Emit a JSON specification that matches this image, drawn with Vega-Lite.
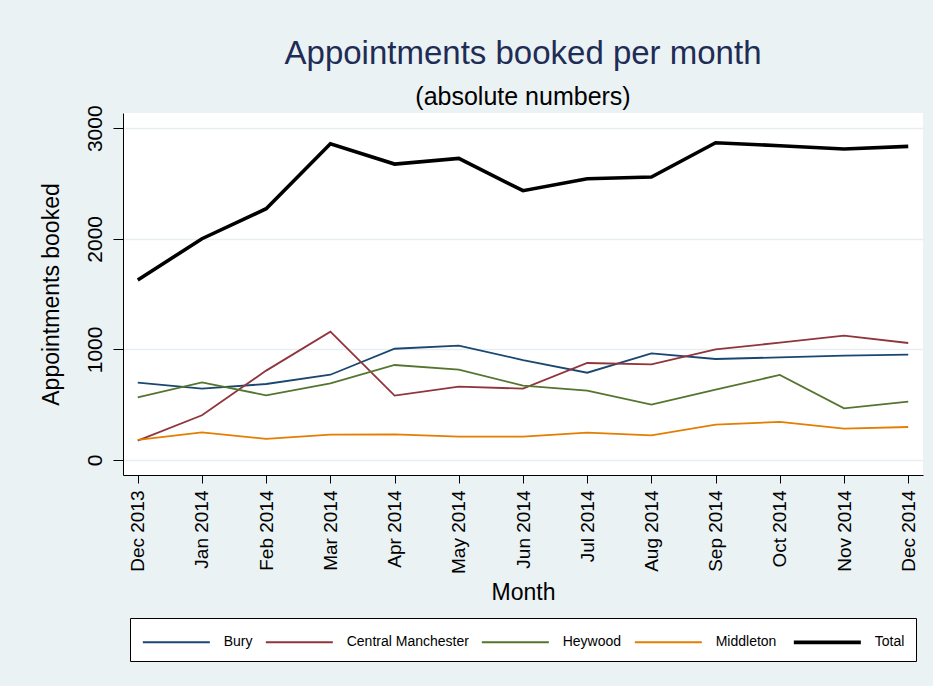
{
  "$schema": "https://vega.github.io/schema/vega-lite/v6.json",
  "width": 800,
  "height": 362,
  "autosize": {"type": "none"},
  "padding": {"left": 123, "top": 113, "right": 10, "bottom": 211},
  "background": "#eaf2f3",
  "config": {
    "view": {"fill": "white", "stroke": null},
    "font": "Liberation Sans"
  },
  "title": {
    "text": "Appointments booked per month",
    "subtitle": "(absolute numbers)",
    "fontSize": 33,
    "subtitleFontSize": 25,
    "fontWeight": "normal",
    "color": "#1f2c56",
    "subtitleColor": "black",
    "font": "Liberation Sans",
    "subtitleFont": "Liberation Sans",
    "anchor": "middle",
    "frame": "group",
    "offset": -5,
    "subtitlePadding": 14
  },
  "data": {
    "values": [
      {"month": "Dec 2013", "series": "Bury", "value": 699},
      {"month": "Jan 2014", "series": "Bury", "value": 645},
      {"month": "Feb 2014", "series": "Bury", "value": 687},
      {"month": "Mar 2014", "series": "Bury", "value": 771},
      {"month": "Apr 2014", "series": "Bury", "value": 1006},
      {"month": "May 2014", "series": "Bury", "value": 1034},
      {"month": "Jun 2014", "series": "Bury", "value": 904},
      {"month": "Jul 2014", "series": "Bury", "value": 789},
      {"month": "Aug 2014", "series": "Bury", "value": 964},
      {"month": "Sep 2014", "series": "Bury", "value": 913},
      {"month": "Oct 2014", "series": "Bury", "value": 928},
      {"month": "Nov 2014", "series": "Bury", "value": 943},
      {"month": "Dec 2014", "series": "Bury", "value": 952},
      {"month": "Dec 2013", "series": "Central Manchester", "value": 175},
      {"month": "Jan 2014", "series": "Central Manchester", "value": 404},
      {"month": "Feb 2014", "series": "Central Manchester", "value": 808},
      {"month": "Mar 2014", "series": "Central Manchester", "value": 1160},
      {"month": "Apr 2014", "series": "Central Manchester", "value": 582},
      {"month": "May 2014", "series": "Central Manchester", "value": 663},
      {"month": "Jun 2014", "series": "Central Manchester", "value": 645},
      {"month": "Jul 2014", "series": "Central Manchester", "value": 877},
      {"month": "Aug 2014", "series": "Central Manchester", "value": 865},
      {"month": "Sep 2014", "series": "Central Manchester", "value": 1001},
      {"month": "Oct 2014", "series": "Central Manchester", "value": 1061},
      {"month": "Nov 2014", "series": "Central Manchester", "value": 1124},
      {"month": "Dec 2014", "series": "Central Manchester", "value": 1058},
      {"month": "Dec 2013", "series": "Heywood", "value": 567},
      {"month": "Jan 2014", "series": "Heywood", "value": 702},
      {"month": "Feb 2014", "series": "Heywood", "value": 585},
      {"month": "Mar 2014", "series": "Heywood", "value": 693},
      {"month": "Apr 2014", "series": "Heywood", "value": 859},
      {"month": "May 2014", "series": "Heywood", "value": 817},
      {"month": "Jun 2014", "series": "Heywood", "value": 672},
      {"month": "Jul 2014", "series": "Heywood", "value": 627},
      {"month": "Aug 2014", "series": "Heywood", "value": 500},
      {"month": "Sep 2014", "series": "Heywood", "value": 636},
      {"month": "Oct 2014", "series": "Heywood", "value": 769},
      {"month": "Nov 2014", "series": "Heywood", "value": 467},
      {"month": "Dec 2014", "series": "Heywood", "value": 527},
      {"month": "Dec 2013", "series": "Middleton", "value": 181},
      {"month": "Jan 2014", "series": "Middleton", "value": 250},
      {"month": "Feb 2014", "series": "Middleton", "value": 190},
      {"month": "Mar 2014", "series": "Middleton", "value": 229},
      {"month": "Apr 2014", "series": "Middleton", "value": 232},
      {"month": "May 2014", "series": "Middleton", "value": 211},
      {"month": "Jun 2014", "series": "Middleton", "value": 211},
      {"month": "Jul 2014", "series": "Middleton", "value": 247},
      {"month": "Aug 2014", "series": "Middleton", "value": 223},
      {"month": "Sep 2014", "series": "Middleton", "value": 319},
      {"month": "Oct 2014", "series": "Middleton", "value": 344},
      {"month": "Nov 2014", "series": "Middleton", "value": 283},
      {"month": "Dec 2014", "series": "Middleton", "value": 298},
      {"month": "Dec 2013", "series": "Total", "value": 1627},
      {"month": "Jan 2014", "series": "Total", "value": 2001},
      {"month": "Feb 2014", "series": "Total", "value": 2272},
      {"month": "Mar 2014", "series": "Total", "value": 2860},
      {"month": "Apr 2014", "series": "Total", "value": 2676},
      {"month": "May 2014", "series": "Total", "value": 2728},
      {"month": "Jun 2014", "series": "Total", "value": 2435},
      {"month": "Jul 2014", "series": "Total", "value": 2544},
      {"month": "Aug 2014", "series": "Total", "value": 2559},
      {"month": "Sep 2014", "series": "Total", "value": 2869},
      {"month": "Oct 2014", "series": "Total", "value": 2842},
      {"month": "Nov 2014", "series": "Total", "value": 2812},
      {"month": "Dec 2014", "series": "Total", "value": 2836}
    ]
  },
  "mark": {"type": "line"},
  "encoding": {
    "x": {
      "field": "month",
      "type": "ordinal",
      "scale": {
        "type": "point",
        "domain": ["Dec 2013", "Jan 2014", "Feb 2014", "Mar 2014", "Apr 2014", "May 2014", "Jun 2014", "Jul 2014", "Aug 2014", "Sep 2014", "Oct 2014", "Nov 2014", "Dec 2014"],
        "padding": 0.23
      },
      "axis": {
        "title": "Month",
        "titleFontSize": 23,
        "titleFontWeight": "normal",
        "titleColor": "black",
        "titleFont": "Liberation Sans",
        "titlePadding": 8,
        "labelAngle": -90,
        "labelFontSize": 19,
        "labelColor": "black",
        "labelFont": "Liberation Sans",
        "labelPadding": 7,
        "labelOverlap": false,
        "tickSize": 8,
        "tickColor": "black",
        "domainColor": "black",
        "grid": false
      }
    },
    "y": {
      "field": "value",
      "type": "quantitative",
      "scale": {"domain": [-136, 3138], "nice": false, "zero": false},
      "axis": {
        "values": [0, 1000, 2000, 3000],
        "format": "d",
        "title": "Appointments booked",
        "titleFontSize": 23,
        "titleFontWeight": "normal",
        "titleColor": "black",
        "titleFont": "Liberation Sans",
        "titlePadding": 21,
        "labelAngle": -90,
        "labelFontSize": 21,
        "labelColor": "black",
        "labelFont": "Liberation Sans",
        "labelPadding": 8,
        "tickSize": 10,
        "tickColor": "black",
        "domainColor": "black",
        "grid": true,
        "gridColor": "#e6eef1",
        "gridWidth": 1.5
      }
    },
    "color": {
      "field": "series",
      "type": "nominal",
      "scale": {
        "domain": ["Bury", "Central Manchester", "Heywood", "Middleton", "Total"],
        "range": ["#1a476f", "#90353b", "#55752f", "#e37e00", "#000000"]
      },
      "legend": {
        "title": null,
        "orient": "none",
        "legendX": 7,
        "legendY": 505,
        "direction": "horizontal",
        "columns": 5,
        "fillColor": "white",
        "strokeColor": "black",
        "padding": 11,
        "columnPadding": 9,
        "labelFontSize": 14,
        "labelColor": "black",
        "labelFont": "Liberation Sans",
        "labelOffset": 56.7,
        "labelLimit": 300,
        "symbolType": "M-1,0H5",
        "symbolSize": 498.8
      }
    },
    "strokeWidth": {
      "field": "series",
      "type": "nominal",
      "scale": {
        "type": "ordinal",
        "domain": ["Bury", "Central Manchester", "Heywood", "Middleton", "Total"],
        "range": [1.8, 1.8, 1.8, 1.8, 3.6]
      },
      "legend": {
        "title": null,
        "orient": "none",
        "legendX": 7,
        "legendY": 505,
        "direction": "horizontal",
        "columns": 5,
        "fillColor": "white",
        "strokeColor": "black",
        "padding": 11,
        "columnPadding": 9,
        "labelFontSize": 14,
        "labelColor": "black",
        "labelFont": "Liberation Sans",
        "labelOffset": 56.7,
        "labelLimit": 300,
        "symbolType": "M-1,0H5",
        "symbolSize": 498.8
      }
    }
  }
}
